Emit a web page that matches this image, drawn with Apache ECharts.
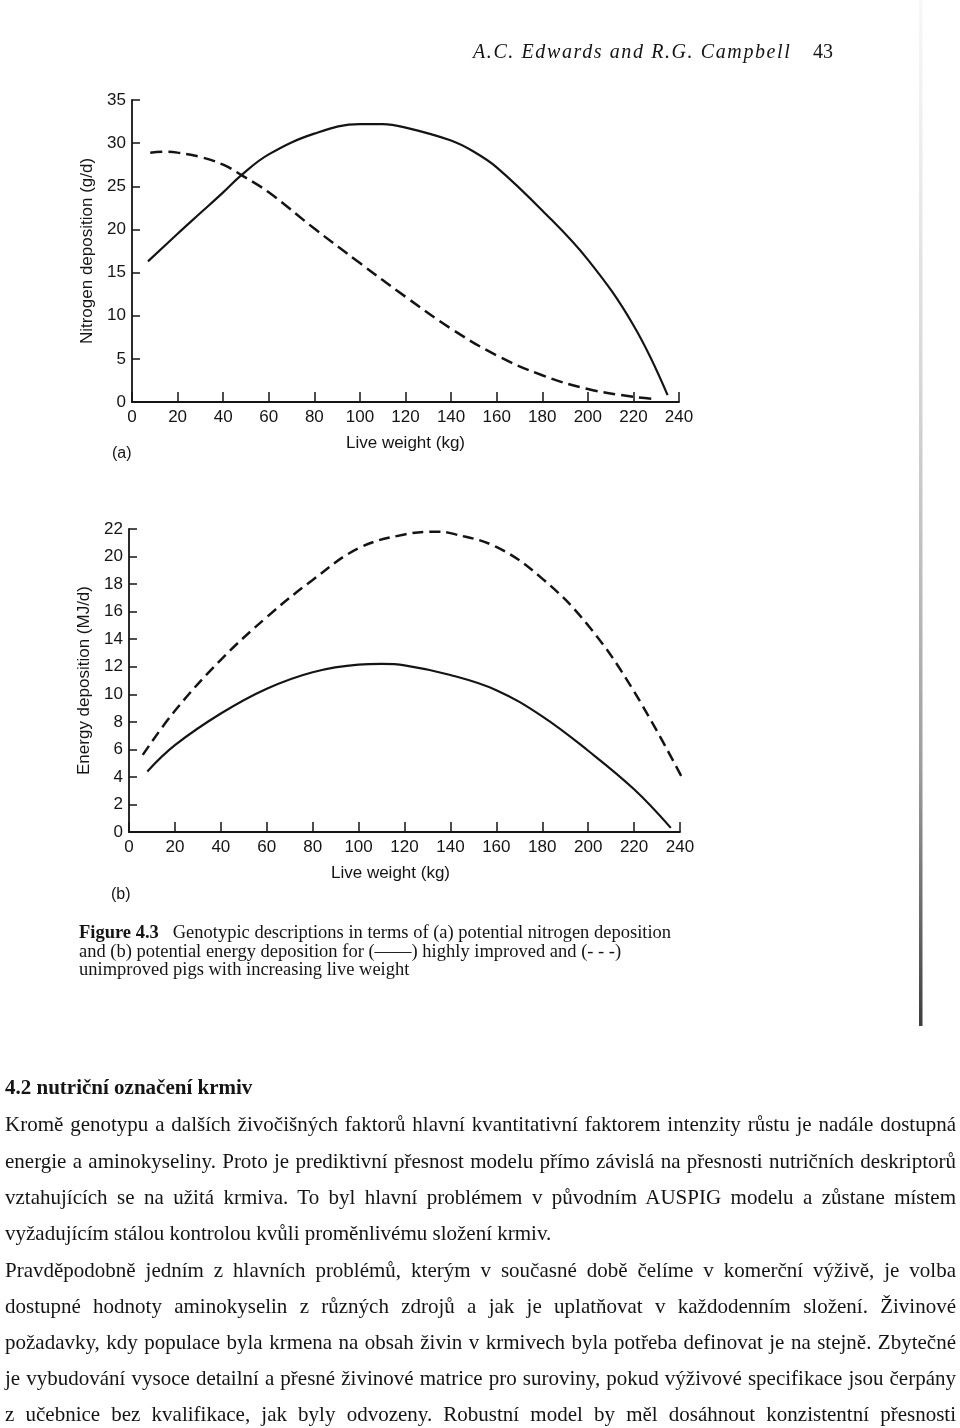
<!DOCTYPE html>
<html>
<head>
<meta charset="utf-8">
<script src="https://cdn.jsdelivr.net/npm/echarts@6/dist/echarts.min.js"></script>
<style>
  html, body { margin: 0; padding: 0; background: #fff; }
  #page { position: relative; width: 960px; height: 1428px; overflow: hidden; background: #fff; }
  #chart { position: absolute; left: 0; top: 0; width: 960px; height: 1428px; }
  .t { position: absolute; white-space: nowrap; color: #141414; font-family: "Liberation Serif", "DejaVu Serif", serif; }
  .hdr { font-size: 20px; line-height: 22px; font-style: italic; letter-spacing: 1.6px; }
  .cap { font-size: 18.5px; line-height: 20px; left: 79px; }
  .body { font-size: 21px; line-height: 24px; left: 5px; }
  .j { width: 951px; }
  .j span { display: inline-block; text-align: justify; text-align-last: justify; transform-origin: 0 0; }
</style>
</head>
<body>
<div id="page">
  <div id="chart"></div>
  <div class="t hdr" style="left:473px; top:40px;">A.C. Edwards and R.G. Campbell</div>
  <div class="t hdr" style="left:813px; top:40px; font-style:normal; letter-spacing:0;">43</div>

  <div class="t cap" style="top:922px;"><b>Figure 4.3</b>&nbsp;&nbsp; Genotypic descriptions in terms of (a) potential nitrogen deposition</div>
  <div class="t cap" style="top:941px;">and (b) potential energy deposition for (——) highly improved and (- - -)</div>
  <div class="t cap" style="top:959px;">unimproved pigs with increasing live weight</div>

  <div class="t body" style="top:1075px; font-weight:bold;">4.2 nutriční označení krmiv</div>
  <div class="t body j" style="top:1112px;"><span>Kromě genotypu a dalších živočišných faktorů hlavní kvantitativní faktorem intenzity růstu je nadále dostupná</span></div>
  <div class="t body j" style="top:1149px;"><span>energie a aminokyseliny. Proto je prediktivní přesnost modelu přímo závislá na přesnosti nutričních deskriptorů</span></div>
  <div class="t body j" style="top:1185px;"><span>vztahujících se na užitá krmiva. To byl hlavní problémem v původním AUSPIG modelu a zůstane místem</span></div>
  <div class="t body" style="top:1221px;">vyžadujícím stálou kontrolou kvůli proměnlivému složení krmiv.</div>
  <div class="t body j" style="top:1258px;"><span>Pravděpodobně jedním z hlavních problémů, kterým v současné době čelíme v komerční výživě, je volba</span></div>
  <div class="t body j" style="top:1294px;"><span>dostupné hodnoty aminokyselin z různých zdrojů a jak je uplatňovat v každodenním složení. Živinové</span></div>
  <div class="t body j" style="top:1330px;"><span>požadavky, kdy populace byla krmena na obsah živin v krmivech byla potřeba definovat je na stejně. Zbytečné</span></div>
  <div class="t body j" style="top:1366px;"><span>je vybudování vysoce detailní a přesné živinové matrice pro suroviny, pokud výživové specifikace jsou čerpány</span></div>
  <div class="t body j" style="top:1402px;"><span>z učebnice bez kvalifikace, jak byly odvozeny. Robustní model by měl dosáhnout konzistentní přesnosti</span></div>
</div>
<script>
// ---- Data ----
// (a) Nitrogen deposition (g/d) vs live weight (kg)
const nWeightImproved = [7, 20, 30, 40, 48, 60, 80, 100, 110, 120, 140, 150, 160, 180, 200, 220, 235];
const nImproved       = [16.3, 19.5, 21.9, 24.3, 26.3, 28.7, 31.1, 32.2, 32.2, 31.8, 30.3, 29.0, 27.2, 22.2, 16.5, 8.9, 0.8];
const nWeightUnimproved = [8, 15, 20, 30, 40, 48, 60, 80, 100, 120, 140, 160, 180, 200, 220, 230];
const nUnimproved       = [28.9, 29.0, 28.9, 28.4, 27.5, 26.3, 24.3, 20.1, 16.1, 12.2, 8.5, 5.4, 3.1, 1.5, 0.6, 0.35];

// (b) Energy deposition (MJ/d) vs live weight (kg)
const eWeightImproved = [8, 20, 40, 60, 80, 100, 110, 120, 140, 160, 180, 200, 220, 236];
const eImproved       = [4.4, 6.3, 8.6, 10.4, 11.6, 12.15, 12.2, 12.1, 11.4, 10.3, 8.4, 5.9, 3.1, 0.3];
const eWeightUnimproved = [6, 20, 40, 60, 80, 100, 120, 135, 140, 160, 180, 200, 220, 242];
const eUnimproved       = [5.6, 8.8, 12.5, 15.6, 18.3, 20.6, 21.6, 21.8, 21.7, 20.7, 18.4, 15.0, 10.2, 3.6];

// Axis names / panel labels
const xName = 'Live weight (kg)';
const yNameA = 'Nitrogen deposition (g/d)';
const yNameB = 'Energy deposition (MJ/d)';
const panelLabels = ['(a)', '(b)'];

function pairs(xs, ys) { return xs.map((x, i) => [x, ys[i]]); }

// Fit justified body lines into the text column (951px)
document.querySelectorAll('.j span').forEach(sp => {
  const natural = sp.getBoundingClientRect().width;
  const W = 951;
  if (natural > W) {
    const s = W / natural;
    sp.style.width = (W / s) + 'px';
    sp.style.transform = 'scaleX(' + s + ')';
  } else {
    sp.style.width = W + 'px';
  }
});

const INK = '#141414';
const SANS = '"Liberation Sans", Arial, sans-serif';

function xAxisCfg(gi, extraPad) {
  return {
    gridIndex: gi, type: 'value', min: 0, max: 240, interval: 20,
    axisLine: { onZero: false, lineStyle: { color: INK, width: 1.8 } },
    axisTick: { inside: true, length: 10, lineStyle: { color: INK, width: 1.5 } },
    axisLabel: { margin: 7, fontSize: 17, color: INK, fontFamily: SANS },
    splitLine: { show: false },
    name: xName, nameLocation: 'middle', nameGap: 33,
    nameTextStyle: { fontSize: 17, color: INK, fontFamily: SANS, padding: extraPad }
  };
}
function yAxisCfg(gi, max, interval, name) {
  return {
    gridIndex: gi, type: 'value', min: 0, max: max, interval: interval,
    axisLine: { onZero: false, lineStyle: { color: INK, width: 1.8 } },
    axisTick: { inside: true, length: 8, lineStyle: { color: INK, width: 1.5 } },
    axisLabel: { margin: 6, fontSize: 17, color: INK, fontFamily: SANS },
    splitLine: { show: false },
    name: name, nameLocation: 'middle', nameRotate: 90, nameGap: 36,
    nameTextStyle: { fontSize: 17, color: INK, fontFamily: SANS }
  };
}

const chart = echarts.init(document.getElementById('chart'), null, { renderer: 'canvas' });
chart.setOption({
  animation: false,
  backgroundColor: 'transparent',
  grid: [
    { left: 132, top: 100, width: 547, height: 302 },
    { left: 129, top: 529, width: 551, height: 303 }
  ],
  xAxis: [xAxisCfg(0, [0, 0, 0, 0]), xAxisCfg(1, [0, 28, 0, 0])],
  yAxis: [yAxisCfg(0, 35, 5, yNameA), yAxisCfg(1, 22, 2, yNameB)],
  series: [
    { type: 'line', xAxisIndex: 0, yAxisIndex: 0, data: pairs(nWeightImproved, nImproved),
      smooth: 0.4, showSymbol: false, clip: false, lineStyle: { color: INK, width: 2.2 } },
    { type: 'line', xAxisIndex: 0, yAxisIndex: 0, data: pairs(nWeightUnimproved, nUnimproved),
      smooth: 0.4, showSymbol: false, clip: false, lineStyle: { color: INK, width: 2.5, type: [12, 6] } },
    { type: 'line', xAxisIndex: 1, yAxisIndex: 1, data: pairs(eWeightImproved, eImproved),
      smooth: 0.4, showSymbol: false, clip: false, lineStyle: { color: INK, width: 2.2 } },
    { type: 'line', xAxisIndex: 1, yAxisIndex: 1, data: pairs(eWeightUnimproved, eUnimproved),
      smooth: 0.4, showSymbol: false, clip: false, lineStyle: { color: INK, width: 2.5, type: [11, 6] } }
  ],
  graphic: [
    { type: 'text', left: 112, top: 446, style: { text: panelLabels[0], fontSize: 16, fill: INK, fontFamily: SANS } },
    { type: 'text', left: 111, top: 887, style: { text: panelLabels[1], fontSize: 16, fill: INK, fontFamily: SANS } },
    { type: 'rect', shape: { x: 919, y: 0, width: 3.5, height: 1026 },
      style: { fill: new echarts.graphic.LinearGradient(0, 0, 0, 1, [
        { offset: 0, color: 'rgba(190,190,190,0.12)' },
        { offset: 0.35, color: 'rgba(160,160,160,0.4)' },
        { offset: 0.75, color: 'rgba(115,115,115,0.7)' },
        { offset: 1, color: 'rgba(50,50,50,0.95)' }
      ]) } }
  ]
});
</script>
</body>
</html>
